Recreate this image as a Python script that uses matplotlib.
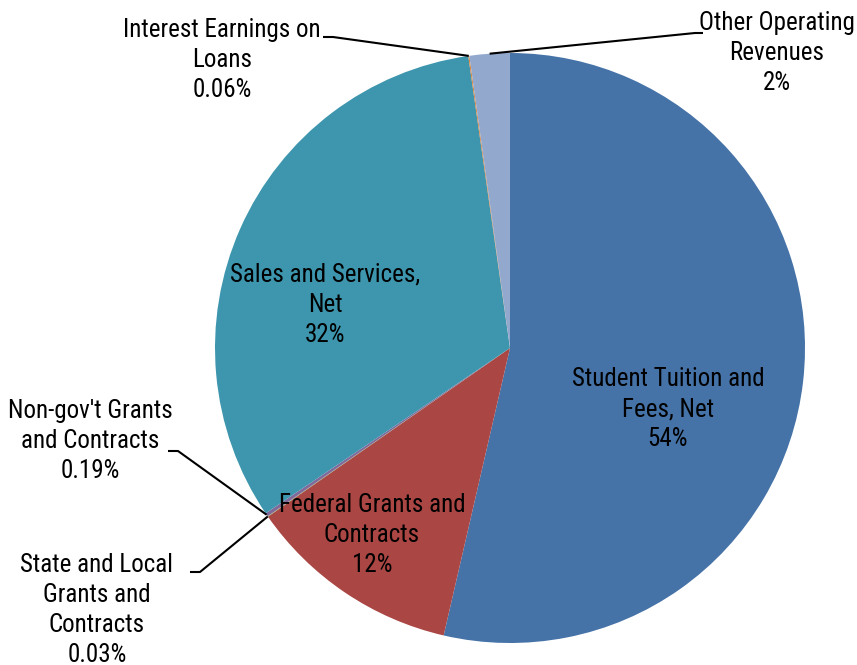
import numpy as np
import matplotlib.pyplot as plt
from matplotlib import font_manager

# slice order: clockwise from 12 o'clock
names = ["Student Tuition and\nFees, Net", "Federal Grants and\nContracts",
         "State and Local\nGrants and\nContracts", "Non-gov't Grants\nand Contracts",
         "Sales and Services,\nNet", "Interest Earnings on\nLoans", "Other Operating\nRevenues"]
shares = [53.6, 11.7, 0.03, 0.19, 32.2, 0.06, 2.2]
pct_labels = ["54%", "12%", "0.03%", "0.19%", "32%", "0.06%", "2%"]
colors = ["#4572A7", "#AA4643", "#89A54E", "#80699B", "#3D96AE", "#DB843D", "#92A8CD"]

W, H = 857, 665

# use a narrow face if one is installed, else shrink the regular one
installed = set(f.name for f in font_manager.fontManager.ttflist)
narrow = [n for n in ['Liberation Sans Narrow', 'Arial Narrow', 'Roboto Condensed']
          if n in installed]
if narrow:
    plt.rcParams['font.family'] = [narrow[0], 'DejaVu Sans']
    fs = 18
else:
    plt.rcParams['font.family'] = ['Liberation Sans', 'DejaVu Sans']
    fs = 15.7

fig = plt.figure(figsize=(W / 100, H / 100), dpi=100)
ax = fig.add_axes([0, 0, 1, 1])

cx, cy, r = 510, H - 348, 295
wedges, _ = ax.pie(shares, colors=colors, startangle=90, counterclock=False,
                   center=(cx, cy), radius=r, frame=True,
                   wedgeprops=dict(linewidth=0))
ax.set_xlim(0, W)
ax.set_ylim(0, H)
ax.set_aspect('equal')
ax.axis('off')

def edge_point(w, frac=0.5):
    a = np.deg2rad(w.theta1 + (w.theta2 - w.theta1) * frac)
    return cx + r * np.cos(a), cy + r * np.sin(a)

# label text positions in pixels from top-left (centres of text blocks)
inside = {0: (668, 409), 1: (372, 535), 4: (325, 305)}
outside = {2: (97, 610, 'right', (190, 572)),
           3: (90, 441, 'right', (168, 451)),
           5: (222, 60, 'right', (323, 37)),
           6: (777, 53, 'left', (695, 33))}

for i, (x, y) in inside.items():
    ax.text(x, H - y, names[i] + "\n" + pct_labels[i], ha='center', va='center',
            fontsize=fs, color='black', linespacing=1.33)

for i, (x, y, side, anchor) in outside.items():
    ax.text(x, H - y, names[i] + "\n" + pct_labels[i], ha='center', va='center',
            fontsize=fs, color='black', linespacing=1.33)
    ex, ey = edge_point(wedges[i])
    axp, ayp = anchor
    if side == 'right':
        xs = [axp, axp + 10, ex]
    else:
        xs = [axp + 8, axp, ex]
    ys = [H - ayp, H - ayp, ey]
    ax.plot(xs, ys, color='black', linewidth=1.5, solid_capstyle='butt')

fig.savefig("out.png", dpi=100)
